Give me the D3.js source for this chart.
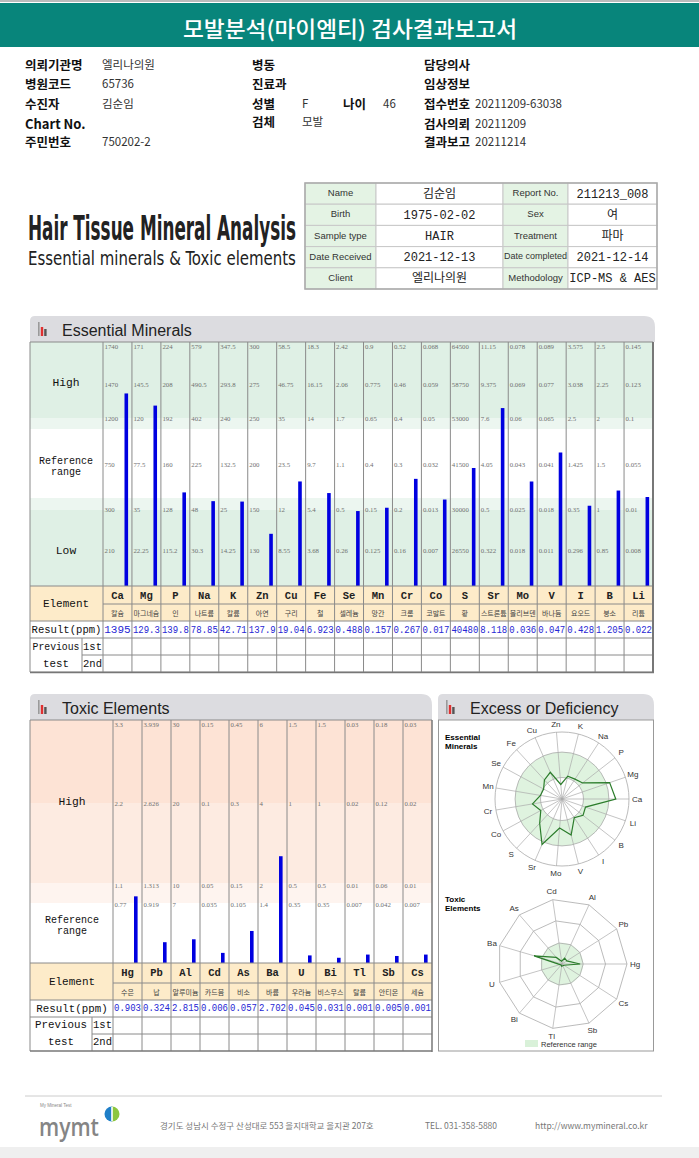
<!DOCTYPE html>
<html>
<head>
<meta charset="utf-8">
<script src="https://cdn.jsdelivr.net/npm/d3@7"></script>
<style>
body { margin: 0; background: #fff; }
</style>
</head>
<body>
<svg width="699" height="1158"></svg>
<script>
// ---------- data ----------
var infoLabels1 = ["의뢰기관명", "병원코드", "수진자", "Chart No.", "주민번호"];
var infoValues1 = ["엘리나의원", "65736", "김순임", "", "750202-2"];
var infoLabels2 = ["병동", "진료과", "성별", "검체"];
var infoValues2 = ["", "", "F", "모발"];
var infoLabels3 = ["담당의사", "임상정보", "접수번호", "검사의뢰", "결과보고"];
var infoValues3 = ["", "", "20211209-63038", "20211209", "20211214"];
var ageLabel = "나이", ageValue = "46";

var sumLabels1 = ["Name", "Birth", "Sample type", "Date Received", "Client"];
var sumValues1 = ["김순임", "1975-02-02", "HAIR", "2021-12-13", "엘리나의원"];
var sumLabels2 = ["Report No.", "Sex", "Treatment", "Date completed", "Methodology"];
var sumValues2 = ["211213_008", "여", "파마", "2021-12-14", "ICP-MS & AES"];

var essElements = ["Ca","Mg","P","Na","K","Zn","Cu","Fe","Se","Mn","Cr","Co","S","Sr","Mo","V","I","B","Li"];
var essKorean = ["칼슘","마그네슘","인","나트륨","칼륨","아연","구리","철","셀레늄","망간","크롬","코발트","황","스트론튬","몰리브덴","바나듐","요오드","붕소","리튬"];
var essResult = [1395,129.3,139.8,78.85,42.71,137.9,19.04,6.923,0.488,0.157,0.267,0.017,40480,8.118,0.036,0.047,0.428,1.205,0.022];
var essTop   = [1740,171,224,579,347.5,300,58.5,18.3,2.42,0.9,0.52,0.068,64500,11.15,0.078,0.089,3.575,2.5,0.145];
var essHigh1 = [1470,145.5,208,490.5,293.8,275,46.75,16.15,2.06,0.775,0.46,0.059,58750,9.375,0.069,0.077,3.038,2.25,0.123];
var essHigh2 = [1200,120,192,402,240,250,35,14,1.7,0.65,0.4,0.05,53000,7.6,0.06,0.065,2.5,2,0.1];
var essMid   = [750,77.5,160,225,132.5,200,23.5,9.7,1.1,0.4,0.3,0.032,41500,4.05,0.043,0.041,1.425,1.5,0.055];
var essLow1  = [300,35,128,48,25,150,12,5.4,0.5,0.15,0.2,0.013,30000,0.5,0.025,0.018,0.35,1,0.01];
var essLow2  = [210,22.25,115.2,30.3,14.25,130,8.55,3.68,0.26,0.125,0.16,0.007,26550,0.322,0.018,0.011,0.296,0.85,0.008];

var toxElements = ["Hg","Pb","Al","Cd","As","Ba","U","Bi","Tl","Sb","Cs"];
var toxKorean = ["수은","납","알루미늄","카드뮴","비소","바륨","우라늄","비스무스","탈륨","안티몬","세슘"];
var toxResult = [0.903,0.324,2.815,0.006,0.057,2.702,0.045,0.031,0.001,0.005,0.001];
var toxTop  = [3.3,3.939,30,0.15,0.45,6,1.5,1.5,0.03,0.18,0.03];
var toxHigh = [2.2,2.626,20,0.1,0.3,4,1,1,0.02,0.12,0.02];
var toxMid  = [1.1,1.313,10,0.05,0.15,2,0.5,0.5,0.01,0.06,0.01];
var toxLow  = [0.77,0.919,7,0.035,0.105,1.4,0.35,0.35,0.007,0.042,0.007];

var footerAddress = "경기도 성남시 수정구 산성대로 553 을지대학교 을지관 207호";
var footerTel = "TEL. 031-358-5880";
var footerUrl = "http://www.mymineral.co.kr";

// ---------- helpers ----------
var KR = "'Noto Sans CJK KR', 'Noto Sans', sans-serif";
var MONO = "'Liberation Mono', 'Noto Sans CJK KR', monospace";
var SANS = "'Liberation Sans', Arial, sans-serif";
var TICK = "'Liberation Serif', serif";
var svg = d3.select("svg");

function txt(g, x, y, s, size, o) {
    o = o || {};
    return g.append("text").attr("x", x).attr("y", y).text(s)
        .attr("font-size", size).attr("font-family", o.font || KR)
        .attr("font-weight", o.bold ? "bold" : (o.weight || null))
        .attr("fill", o.fill || "#111")
        .attr("text-anchor", o.anchor || "start")
        .attr("dominant-baseline", "central");
}
// shrink a text horizontally (about its anchor) when it is wider than maxW
function fit(sel, maxW) {
    sel.each(function () {
        var w = this.getComputedTextLength();
        if (w > maxW) {
            var t = d3.select(this), x = +t.attr("x"), y = +t.attr("y");
            t.attr("x", 0).attr("y", 0)
                .attr("transform", "translate(" + x + "," + y + ") scale(" + (maxW / w) + ",1)");
        }
    });
    return sel;
}
function squeeze(g, x, y, s, size, w, o) {
    var t = g.append("text").attr("x", 0).attr("y", 0).text(s)
        .attr("font-size", size).attr("font-family", o.font).attr("font-weight", o.weight || null)
        .attr("fill", o.fill || "#222");
    var nat = t.node().getComputedTextLength();
    t.attr("transform", "translate(" + x + "," + y + ") scale(" + (w / nat) + ",1)");
    return t;
}
function hline(g, x1, x2, y, c, w) {
    g.append("line").attr("x1", x1).attr("x2", x2).attr("y1", y).attr("y2", y)
        .attr("stroke", c || "#8a8a8a").attr("stroke-width", w || 1);
}
function vline(g, x, y1, y2, c, w) {
    g.append("line").attr("x1", x).attr("x2", x).attr("y1", y1).attr("y2", y2)
        .attr("stroke", c || "#8a8a8a").attr("stroke-width", w || 1);
}
function header(x, y, w, h, title) {
    var g = svg.append("g");
    var rl = 5, rr = 11;
    g.append("path").attr("fill", "#dcdce0")
        .attr("d", "M" + x + "," + (y + h) + "V" + (y + rl) + "Q" + x + "," + y + " " + (x + rl) + "," + y +
            "H" + (x + w - rr) + "Q" + (x + w) + "," + y + " " + (x + w) + "," + (y + rr) + "V" + (y + h) + "Z");
    g.append("rect").attr("x", x + 8).attr("y", y + 6).attr("width", 1.6).attr("height", 14).attr("fill", "#9a9a9a");
    g.append("rect").attr("x", x + 10.8).attr("y", y + 11).attr("width", 2.4).attr("height", 9).attr("fill", "#e03030");
    g.append("rect").attr("x", x + 14.2).attr("y", y + 13).attr("width", 2.4).attr("height", 7).attr("fill", "#555");
    txt(g, x + 32, y + 14, title, 16, { font: SANS, fill: "#222" });
}

// ---------- top report header ----------
hline(svg, 0, 699, 1, "#bbb", 2);
svg.append("rect").attr("x", 0).attr("y", 3).attr("width", 699).attr("height", 44).attr("fill", "#08857b");
txt(svg, 350, 27, "모발분석(마이엠티) 검사결과보고서", 22, { anchor: "middle", fill: "#fff", weight: 500 })
    .attr("textLength", 334).attr("lengthAdjust", "spacingAndGlyphs");

var rowY = [64, 83, 103, 123, 141];
var info = svg.append("g");
infoLabels1.forEach(function (d, i) {
    txt(info, 25, rowY[i], d, d === "Chart No." ? 13 : 12.5, { bold: true, fill: "#111" });
    txt(info, 102, rowY[i], infoValues1[i], 11.5, { fill: "#333" });
});
infoLabels2.forEach(function (d, i) {
    var y = i === 3 ? 121 : rowY[i];
    txt(info, 252, y, d, 12.5, { bold: true });
    txt(info, 302, y, infoValues2[i], 11.5, { fill: "#333" });
});
txt(info, 343, rowY[2], ageLabel, 12.5, { bold: true });
txt(info, 383, rowY[2], ageValue, 11.5, { fill: "#333" });
infoLabels3.forEach(function (d, i) {
    txt(info, 424, rowY[i], d, 12.5, { bold: true });
    txt(info, 475, rowY[i], infoValues3[i], 11.5, { fill: "#333" });
});

// ---------- Hair Tissue title + summary table ----------
var ht = svg.append("g");
var NARROW = "'Liberation Sans Narrow', 'DejaVu Sans Condensed', Arial, sans-serif";
squeeze(ht, 28, 240, "Hair Tissue Mineral Analysis", 34, 268, { font: NARROW, weight: "bold" });
squeeze(ht, 28, 265, "Essential minerals & Toxic elements", 19, 268, { font: NARROW });

var colX = [305, 376, 503, 568, 657];
var sRowY = d3.scaleBand().domain(d3.range(sumLabels1.length)).range([183, 289]);
var st = svg.append("g");
sumLabels1.forEach(function (d, i) {
    var y = sRowY(i), h = sRowY.bandwidth();
    [[0, "#e4f3e4"], [1, "#fff"], [2, "#e4f3e4"], [3, "#fff"]].forEach(function (c) {
        st.append("rect").attr("x", colX[c[0]]).attr("y", y).attr("width", colX[c[0] + 1] - colX[c[0]])
            .attr("height", h).attr("fill", c[1]).attr("stroke", "#c8c8c8").attr("stroke-width", 1);
    });
    var cy = y + h / 2;
    fit(txt(st, (colX[0] + colX[1]) / 2, cy - 1, d, 9.5, { font: SANS, anchor: "middle", fill: "#333" }), 68);
    txt(st, (colX[1] + colX[2]) / 2, cy + 1, sumValues1[i], 12, { font: MONO, anchor: "middle", fill: "#222" });
    fit(txt(st, (colX[2] + colX[3]) / 2, cy - 1, sumLabels2[i], 9.5, { font: SANS, anchor: "middle", fill: "#333" }), 63);
    fit(txt(st, (colX[3] + colX[4]) / 2, cy + 1, sumValues2[i], 12, { font: MONO, anchor: "middle", fill: "#222" }), 87);
});
st.append("rect").attr("x", 305).attr("y", 183).attr("width", 352).attr("height", 106)
    .attr("fill", "none").attr("stroke", "#aaa").attr("stroke-width", 1.5);

// ---------- Essential Minerals ----------
header(30, 316, 625, 26, "Essential Minerals");
var ess = svg.append("g");
var ex = d3.scaleBand().domain(essElements).range([103, 653]);
var bw = ex.bandwidth();
var essRange = [586, 550, 509, 464, 418, 384, 346];
var essScales = essElements.map(function (d, i) {
    return d3.scaleLinear()
        .domain([0, essLow2[i], essLow1[i], essMid[i], essHigh2[i], essHigh1[i], essTop[i]])
        .range(essRange).clamp(true);
});
[[342, 418, "#dff0e5"], [418, 429, "#ecf6f0"], [498, 510, "#ecf6f0"], [510, 586, "#dff0e5"], [586, 621, "#fdebc9"]]
    .forEach(function (b) {
        ess.append("rect").attr("x", 30).attr("y", b[0]).attr("width", 623).attr("height", b[1] - b[0]).attr("fill", b[2]);
    });

var essTicks = [essTop, essHigh1, essHigh2, essMid, essLow1, essLow2];
essElements.forEach(function (d, i) {
    var x0 = ex(d);
    essTicks.forEach(function (arr) {
        fit(txt(ess, x0 + 1.5, essScales[i](arr[i]), String(arr[i]), 6.8, { font: TICK, fill: "#707070" }), 19);
    });
});
ess.selectAll("rect.bar").data(essElements).enter().append("rect").attr("class", "bar")
    .attr("x", function (d) { return ex(d) + 21.5; })
    .attr("width", 3.6)
    .attr("y", function (d, i) { return essScales[i](essResult[i]); })
    .attr("height", function (d, i) { return 586 - essScales[i](essResult[i]); })
    .attr("fill", "#0000e0");

essElements.forEach(function (d, i) {
    var cx = ex(d) + bw / 2;
    txt(ess, cx, 595.5, d, 10.5, { font: MONO, bold: true, anchor: "middle", fill: "#222" });
    fit(txt(ess, cx, 613, essKorean[i], 7, { anchor: "middle", fill: "#444" }), bw - 1.5);
    fit(txt(ess, cx, 630, String(essResult[i]), 11, { font: MONO, anchor: "middle", fill: "#2626d4" }), bw - 2);
});
txt(ess, 66, 383, "High", 11.3, { font: MONO, anchor: "middle" });
txt(ess, 66, 461, "Reference", 10, { font: MONO, anchor: "middle" });
txt(ess, 66, 472.5, "range", 10, { font: MONO, anchor: "middle" });
txt(ess, 66, 551, "Low", 11.3, { font: MONO, anchor: "middle" });
txt(ess, 66, 604, "Element", 11, { font: MONO, anchor: "middle" });
fit(txt(ess, 66.5, 630, "Result(ppm)", 10.8, { font: MONO, anchor: "middle" }), 70);
fit(txt(ess, 56, 647, "Previous", 10.8, { font: MONO, anchor: "middle" }), 47);
txt(ess, 56, 664, "test", 10.8, { font: MONO, anchor: "middle" });
fit(txt(ess, 92.5, 647, "1st", 10.8, { font: MONO, anchor: "middle" }), 19);
fit(txt(ess, 92.5, 664, "2nd", 10.8, { font: MONO, anchor: "middle" }), 19);

essElements.forEach(function (d) { vline(ess, ex(d), 342, 672); });
vline(ess, 30, 342, 672);
vline(ess, 82, 638, 672);
hline(ess, 103, 653, 604);
[586, 621, 638, 672].forEach(function (y) { hline(ess, 30, 653, y); });
hline(ess, 82, 653, 655);
hline(ess, 30, 653, 342);
vline(ess, 653, 342, 673, "#777", 2);
hline(ess, 30, 654, 672.5, "#777", 1.5);

// ---------- Toxic Elements ----------
header(30, 694, 402, 26, "Toxic Elements");
var tox = svg.append("g");
var tx = d3.scaleBand().domain(toxElements).range([113, 432]);
var tw = tx.bandwidth();
var toxRange = [963, 904, 885, 803, 724];
var toxScales = toxElements.map(function (d, i) {
    return d3.scaleLinear().domain([0, toxLow[i], toxMid[i], toxHigh[i], toxTop[i]]).range(toxRange).clamp(true);
});
[[720, 803, "#fde3d5"], [803, 883, "#fdebe1"], [883, 903, "#fef4ef"], [963, 1000, "#fdebc9"]]
    .forEach(function (b) {
        tox.append("rect").attr("x", 30).attr("y", b[0]).attr("width", 402).attr("height", b[1] - b[0]).attr("fill", b[2]);
    });
var toxTicks = [toxTop, toxHigh, toxMid, toxLow];
toxElements.forEach(function (d, i) {
    toxTicks.forEach(function (arr) {
        fit(txt(tox, tx(d) + 1.5, toxScales[i](arr[i]), String(arr[i]), 6.8, { font: TICK, fill: "#707070" }), 19);
    });
});
tox.selectAll("rect.bar").data(toxElements).enter().append("rect").attr("class", "bar")
    .attr("x", function (d) { return tx(d) + 21; })
    .attr("width", 3.6)
    .attr("y", function (d, i) { return toxScales[i](toxResult[i]); })
    .attr("height", function (d, i) { return 963 - toxScales[i](toxResult[i]); })
    .attr("fill", "#0000e0");
toxElements.forEach(function (d, i) {
    var cx = tx(d) + tw / 2;
    txt(tox, cx, 973, d, 10.5, { font: MONO, bold: true, anchor: "middle", fill: "#222" });
    fit(txt(tox, cx, 991.5, toxKorean[i], 7, { anchor: "middle", fill: "#444" }), tw - 1.5);
    fit(txt(tox, cx, 1008.5, String(toxResult[i]), 11, { font: MONO, anchor: "middle", fill: "#2626d4" }), tw - 2);
});
txt(tox, 72, 802, "High", 11.3, { font: MONO, anchor: "middle" });
txt(tox, 72, 920, "Reference", 10, { font: MONO, anchor: "middle" });
txt(tox, 72, 931.5, "range", 10, { font: MONO, anchor: "middle" });
txt(tox, 72, 982, "Element", 11, { font: MONO, anchor: "middle" });
fit(txt(tox, 72, 1008.5, "Result(ppm)", 10.8, { font: MONO, anchor: "middle" }), 74);
fit(txt(tox, 61, 1025, "Previous", 10.8, { font: MONO, anchor: "middle" }), 52);
txt(tox, 61, 1042, "test", 10.8, { font: MONO, anchor: "middle" });
fit(txt(tox, 102.5, 1025, "1st", 10.8, { font: MONO, anchor: "middle" }), 19);
fit(txt(tox, 102.5, 1042, "2nd", 10.8, { font: MONO, anchor: "middle" }), 19);
toxElements.forEach(function (d) { vline(tox, tx(d), 720, 1051); });
vline(tox, 30, 720, 1051);
vline(tox, 92, 1017, 1051);
hline(tox, 113, 432, 983);
[963, 1000, 1017].forEach(function (y) { hline(tox, 30, 432, y); });
hline(tox, 92, 432, 1034);
hline(tox, 30, 432, 720);
vline(tox, 432, 720, 1052, "#777", 1.5);
hline(tox, 30, 432, 1051, "#777", 1.5);

// ---------- Excess or Deficiency ----------
header(438, 694, 216, 26, "Excess or Deficiency");
var rad = svg.append("g");
rad.append("rect").attr("x", 438.5).attr("y", 720).attr("width", 215).attr("height", 331)
    .attr("fill", "none").attr("stroke", "#999").attr("stroke-width", 1);
var lab1 = rad.append("text").attr("font-size", 8).attr("font-family", SANS).attr("font-weight", "bold");
lab1.append("tspan").attr("x", 445).attr("y", 740).text("Essential");
lab1.append("tspan").attr("x", 445).attr("y", 749).text("Minerals");
var lab2 = rad.append("text").attr("font-size", 8).attr("font-family", SANS).attr("font-weight", "bold");
lab2.append("tspan").attr("x", 445).attr("y", 902).text("Toxic");
lab2.append("tspan").attr("x", 445).attr("y", 911).text("Elements");

function radar(cx, cy, R, names, fracs, rings, ref, poly) {
    var g = rad.append("g").attr("transform", "translate(" + cx + "," + cy + ")");
    var n = names.length;
    var ang = d3.scaleLinear().domain([0, n]).range([0, 2 * Math.PI]);
    var r = d3.scaleLinear().domain([0, 1]).range([0, R]);
    g.append("path").attr("fill", "#d9f1d9").attr("opacity", 0.85)
        .attr("d", d3.arc().innerRadius(r(ref[0])).outerRadius(r(ref[1])).startAngle(0).endAngle(2 * Math.PI)());
    rings.forEach(function (f) {
        if (poly) {
            g.append("path").attr("fill", "none").attr("stroke", "#aaa").attr("stroke-width", 0.8)
                .attr("d", d3.lineRadial().angle(function (d) { return Math.PI / 2 - ang(d); })
                    .radius(r(f)).curve(d3.curveLinearClosed)(d3.range(n)));
        } else {
            g.append("circle").attr("r", r(f)).attr("fill", "none").attr("stroke", "#aaa").attr("stroke-width", 0.8);
        }
    });
    names.forEach(function (d, i) {
        var a = ang(i);
        g.append("line").attr("x1", 0).attr("y1", 0)
            .attr("x2", r(1) * Math.cos(a)).attr("y2", -r(1) * Math.sin(a))
            .attr("stroke", "#aaa").attr("stroke-width", 0.7);
        txt(g, (R + 8) * Math.cos(a), -(R + 8) * Math.sin(a), d, 8, { font: SANS, anchor: "middle", fill: "#333" });
    });
    g.append("path").attr("fill", "none").attr("stroke", "#2c7d2c").attr("stroke-width", 1.2)
        .attr("d", d3.lineRadial().angle(function (d, i) { return Math.PI / 2 - ang(i); })
            .radius(function (d) { return r(d); }).curve(d3.curveLinearClosed)(fracs));
}
var essFrac = essElements.map(function (d, i) { return (586 - essScales[i](essResult[i])) / (586 - 346); });
var essRing = function (y) { return (586 - y) / (586 - 346); };
radar(562, 799, 67, essElements, essFrac, [essRing(509), essRing(418), 1], [essRing(509), essRing(418)], false);
var toxFrac = toxElements.map(function (d, i) { return (963 - toxScales[i](toxResult[i])) / (963 - 724); });
var toxRing = function (y) { return (963 - y) / (963 - 724); };
radar(562, 964, 65, toxElements, toxFrac, [toxRing(885), toxRing(803), 1], [0, toxRing(885)], true);
rad.append("rect").attr("x", 525).attr("y", 1040).attr("width", 13).attr("height", 7).attr("fill", "#d9f1d9");
txt(rad, 541, 1044, "Reference range", 7.5, { font: SANS, fill: "#333" });

// ---------- footer ----------
var ft = svg.append("g");
hline(ft, 25, 662, 1096, "#ccc", 1);
txt(ft, 40, 1105.5, "My Mineral Test", 4.5, { font: SANS, fill: "#888" });
squeeze(ft, 39, 1136, "mymt", 25, 60, { font: "'Open Sans', sans-serif", weight: 600, fill: "#858585" });
var logo = ft.append("g").attr("transform", "translate(112,1114)");
logo.append("path").attr("fill", "#1f7fc8").attr("d", d3.arc().innerRadius(0).outerRadius(7.5).startAngle(Math.PI).endAngle(2 * Math.PI)());
logo.append("path").attr("fill", "#8cc63e").attr("d", d3.arc().innerRadius(0).outerRadius(7.5).startAngle(0).endAngle(Math.PI)());
logo.append("rect").attr("x", -0.8).attr("y", -7).attr("width", 1.6).attr("height", 14).attr("fill", "#fff");
txt(ft, 160, 1125, footerAddress, 8.5, { fill: "#777" });
txt(ft, 425, 1125, footerTel, 8.5, { fill: "#777" });
txt(ft, 535, 1125, footerUrl, 8.5, { fill: "#777" });
svg.append("rect").attr("x", 0).attr("y", 1147).attr("width", 699).attr("height", 11).attr("fill", "#efefef");
</script>
</body>
</html>
